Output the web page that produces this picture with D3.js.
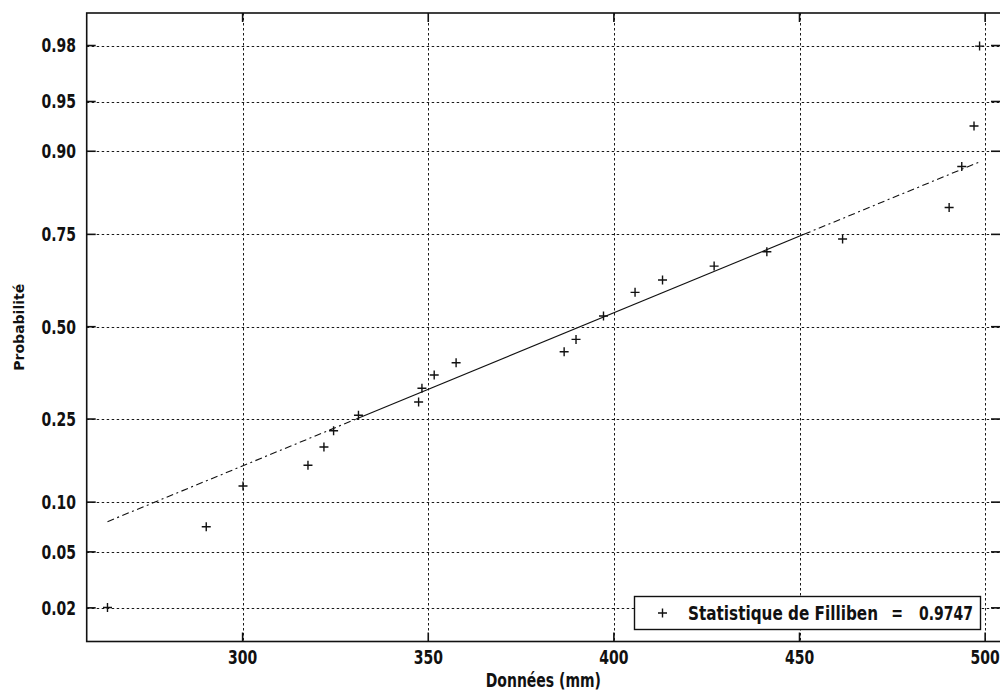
<!DOCTYPE html>
<html>
<head>
<meta charset="utf-8">
<script src="https://cdn.jsdelivr.net/npm/d3@7"></script>
<style>
  html, body { margin: 0; padding: 0; background: #fff; }
  svg { display: block; }
  text { font-family: "DejaVu Sans", Verdana, sans-serif; font-weight: bold; fill: #111; }
</style>
</head>
<body>
<svg id="chart" width="1000" height="692"></svg>
<script>
// Observations (mm), sorted ascending
const donnees = [263.6, 290.2, 300.1, 317.6, 321.9, 324.5, 331.2, 347.4, 348.3, 351.6, 357.5,
                 386.6, 389.8, 397.2, 405.7, 413.1, 427.0, 441.2, 461.6, 490.3, 493.7, 497.0, 498.5];
// Empirical cumulative probabilities of each observation
const probabilites = [0.0201, 0.0720, 0.1222, 0.1557, 0.1897, 0.2237, 0.2587, 0.2912, 0.3264, 0.362, 0.396,
                      0.4275, 0.463, 0.531, 0.599, 0.6335, 0.671, 0.708, 0.739, 0.808, 0.879, 0.9287, 0.9798];
// Reference line: data values at p = 0.25 and p = 0.75
const quartilesDroite = [330.6, 451.2];
const xTicks = [300, 350, 400, 450, 500];
const yTicks = [0.02, 0.05, 0.10, 0.25, 0.50, 0.75, 0.90, 0.95, 0.98];
const yTickLabels = ["0.02", "0.05", "0.10", "0.25", "0.50", "0.75", "0.90", "0.95", "0.98"];
const legendeTexte = ["Statistique de Filliben", "=", "0.9747"];

// Inverse of the standard normal CDF (Acklam's rational approximation)
function normInv(p) {
  const a = [-3.969683028665376e+01, 2.209460984245205e+02, -2.759285104469687e+02, 1.383577518672690e+02, -3.066479806614716e+01, 2.506628277459239e+00];
  const b = [-5.447609879822406e+01, 1.615858368580409e+02, -1.556989798598866e+02, 6.680131188771972e+01, -1.328068155288572e+01];
  const c = [-7.784894002430293e-03, -3.223964580411365e-01, -2.400758277161838e+00, -2.549732539343734e+00, 4.374664141464968e+00, 2.938163982698783e+00];
  const d = [7.784695709041462e-03, 3.224671290700398e-01, 2.445134137142996e+00, 3.754408661907416e+00];
  const pl = 0.02425, ph = 1 - pl;
  let q, r;
  if (p < pl) {
    q = Math.sqrt(-2 * Math.log(p));
    return (((((c[0]*q+c[1])*q+c[2])*q+c[3])*q+c[4])*q+c[5]) / ((((d[0]*q+d[1])*q+d[2])*q+d[3])*q+1);
  }
  if (p <= ph) {
    q = p - 0.5; r = q * q;
    return (((((a[0]*r+a[1])*r+a[2])*r+a[3])*r+a[4])*r+a[5])*q / (((((b[0]*r+b[1])*r+b[2])*r+b[3])*r+b[4])*r+1);
  }
  q = Math.sqrt(-2 * Math.log(1 - p));
  return -(((((c[0]*q+c[1])*q+c[2])*q+c[3])*q+c[4])*q+c[5]) / ((((d[0]*q+d[1])*q+d[2])*q+d[3])*q+1);
}

const svg = d3.select("#chart");
const plot = { left: 86.7, right: 1000, top: 13, bottom: 641.5 };
const TXT_SY = 1.35;     // vertical stretch of the lettering
const TICK = 9;

// x: data (mm); y: probability on a normal-quantile axis
const x = d3.scaleLinear().domain([258, 504]).range([plot.left, plot.right]);
const zScale = d3.scaleLinear().domain([-2.2995, 2.2915]).range([plot.bottom, plot.top]);
const y = p => zScale(normInv(p));

function label(g, px, py, str, anchor, size) {
  return g.append("text")
    .attr("transform", `translate(${px},${py}) scale(1,${TXT_SY})`)
    .attr("text-anchor", anchor)
    .attr("dy", "0.36em")
    .style("font-size", (size || 14) + "px")
    .text(str);
}

// Grid (dotted)
const grid = svg.append("g").attr("stroke", "#1a1a1a").attr("stroke-width", 1).attr("stroke-dasharray", "2.5,2.5");
grid.selectAll("line.gx").data(xTicks).join("line")
  .attr("x1", d => Math.round(x(d)) + 0.5).attr("x2", d => Math.round(x(d)) + 0.5)
  .attr("y1", plot.top).attr("y2", plot.bottom);
grid.selectAll("line.gy").data(yTicks).join("line")
  .attr("y1", d => Math.round(y(d)) + 0.5).attr("y2", d => Math.round(y(d)) + 0.5)
  .attr("x1", plot.left).attr("x2", plot.right);

// Reference line: solid between the quartiles, dash-dot extensions to the data range
const [q1, q3] = quartilesDroite;
const mu = (q1 + q3) / 2;
const sigma = (q3 - q1) / (2 * normInv(0.75));
const zOf = v => (v - mu) / sigma;
const seg = d3.line().x(d => x(d)).y(d => zScale(zOf(d)));
const xmin = d3.min(donnees), xmax = d3.max(donnees);
const lineG = svg.append("g").attr("fill", "none").attr("stroke", "#111").attr("stroke-width", 1.1);
lineG.append("path").attr("d", seg([xmin, q1])).attr("stroke-dasharray", "7,3.5,2,3.5");
lineG.append("path").attr("d", seg([q1, q3]));
lineG.append("path").attr("d", seg([q3, xmax])).attr("stroke-dasharray", "7,3.5,2,3.5");

// Data markers
const plus = "M-4.5,0H4.5M0,-4.5V4.5";
svg.append("g").selectAll("path").data(d3.zip(donnees, probabilites)).join("path")
  .attr("d", plus)
  .attr("transform", d => `translate(${x(d[0])},${y(d[1])})`)
  .attr("stroke", "#111").attr("stroke-width", 1.4).attr("fill", "none");

// Axes box and inward ticks on all four sides
const ax = svg.append("g").attr("stroke", "#111").attr("stroke-width", 1.6).attr("fill", "none");
ax.append("rect").attr("x", plot.left).attr("y", plot.top)
  .attr("width", plot.right + 1 - plot.left).attr("height", plot.bottom - plot.top);
xTicks.forEach(t => {
  const px = x(t);
  ax.append("line").attr("x1", px).attr("x2", px).attr("y1", plot.bottom).attr("y2", plot.bottom - TICK);
  ax.append("line").attr("x1", px).attr("x2", px).attr("y1", plot.top).attr("y2", plot.top + TICK);
});
yTicks.forEach(t => {
  const py = y(t);
  ax.append("line").attr("x1", plot.left).attr("x2", plot.left + TICK).attr("y1", py).attr("y2", py);
  ax.append("line").attr("x1", plot.right).attr("x2", plot.right - TICK).attr("y1", py).attr("y2", py);
});

// Tick labels
const tl = svg.append("g");
xTicks.forEach(t => label(tl, x(t), 657, String(t), "middle"));
yTicks.forEach((t, i) => label(tl, 76, y(t), yTickLabels[i], "end"));

// Axis titles
label(svg, (plot.left + plot.right) / 2, 680, "Données (mm)", "middle");
svg.append("text")
  .attr("transform", `translate(19,${(plot.top + plot.bottom) / 2}) rotate(-90)`)
  .attr("text-anchor", "middle").attr("dy", "0.36em")
  .style("font-size", "14px")
  .text("Probabilité");

// Legend
const lg = svg.append("g");
lg.append("rect").attr("x", 634.5).attr("y", 596.5).attr("width", 346).attr("height", 33)
  .attr("fill", "#fff").attr("stroke", "#111").attr("stroke-width", 1.4);
lg.append("path").attr("d", plus).attr("transform", "translate(662.5,613)")
  .attr("stroke", "#111").attr("stroke-width", 1.4).attr("fill", "none");
label(lg, 688, 613, legendeTexte[0], "start", 14)
  .attr("textLength", 190).attr("lengthAdjust", "spacingAndGlyphs");
label(lg, 897, 613, legendeTexte[1], "middle", 14);
label(lg, 973, 613, legendeTexte[2], "end", 14);
</script>
</body>
</html>
